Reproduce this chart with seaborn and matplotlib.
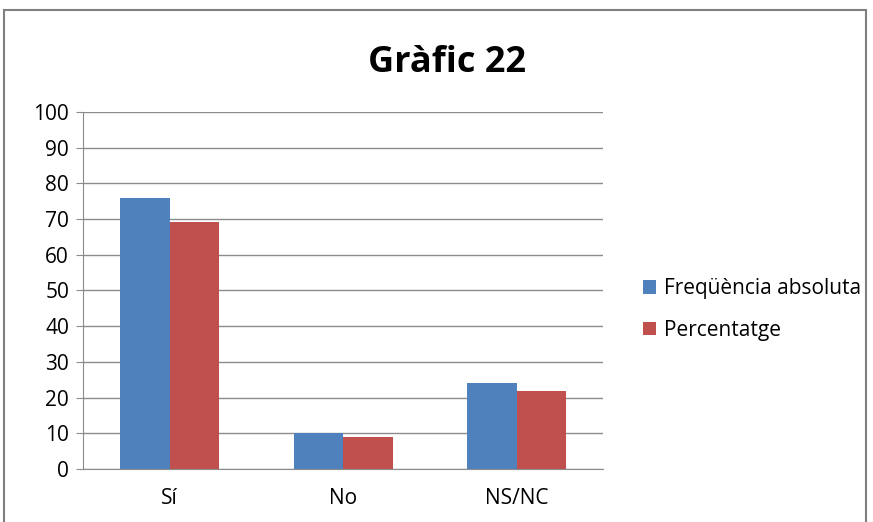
import matplotlib
matplotlib.use("Agg")
import matplotlib.pyplot as plt
import pandas as pd
import seaborn as sns
from matplotlib.patches import Rectangle

categories = ["Sí", "No", "NS/NC"]
freq_abs = [76, 10, 24]
percent = [69.09, 9.09, 21.82]
series_names = ["Freqüència absoluta", "Percentatge"]

df = pd.DataFrame({
    "cat": categories * 2,
    "val": freq_abs + percent,
    "serie": [series_names[0]] * 3 + [series_names[1]] * 3,
})

sns.set_style("white")
plt.rcParams["font.family"] = ["Open Sans", "DejaVu Sans"]
plt.rcParams["text.color"] = "black"
plt.rcParams["xtick.color"] = "black"
plt.rcParams["ytick.color"] = "black"

fig = plt.figure(figsize=(8.73, 5.22), dpi=100)
ax = fig.add_axes([0.095, 0.1015, 0.596, 0.684])

sns.barplot(data=df, x="cat", y="val", hue="serie", order=categories,
            palette=["#4f81bd", "#c0504d"], width=0.57, ax=ax,
            edgecolor="none", saturation=1, legend=True)

ax.set_ylim(0, 100)
ax.set_xlim(-0.5, 2.5)
ax.set_yticks(range(0, 101, 10))
ax.yaxis.grid(True, color="#8c8c8c", linewidth=1)
ax.set_axisbelow(True)
ax.set_xlabel("")
ax.set_ylabel("")
for s in ["top", "right"]:
    ax.spines[s].set_visible(False)
ax.spines["left"].set_color("#8c8c8c")
ax.spines["bottom"].set_color("#8c8c8c")
ax.tick_params(axis="y", left=True, length=5, color="#8c8c8c", labelsize=15, pad=5)
ax.tick_params(axis="x", bottom=False, labelsize=15, pad=10)

fig.text(0.512, 0.88, "Gràfic 22", ha="center", va="center",
         fontsize=26, fontweight="bold")

leg = ax.legend(loc="center left", bbox_to_anchor=(1.04, 0.447), frameon=False,
                fontsize=15, handlelength=0.65, handleheight=0.65,
                handletextpad=0.35, labelspacing=1.0)

fig.patches.append(Rectangle((0.005, -0.01), 0.987, 0.99, transform=fig.transFigure,
                             fill=False, edgecolor="#7f7f7f", linewidth=1.5))

fig.savefig("out.png", dpi=100, facecolor="white")
